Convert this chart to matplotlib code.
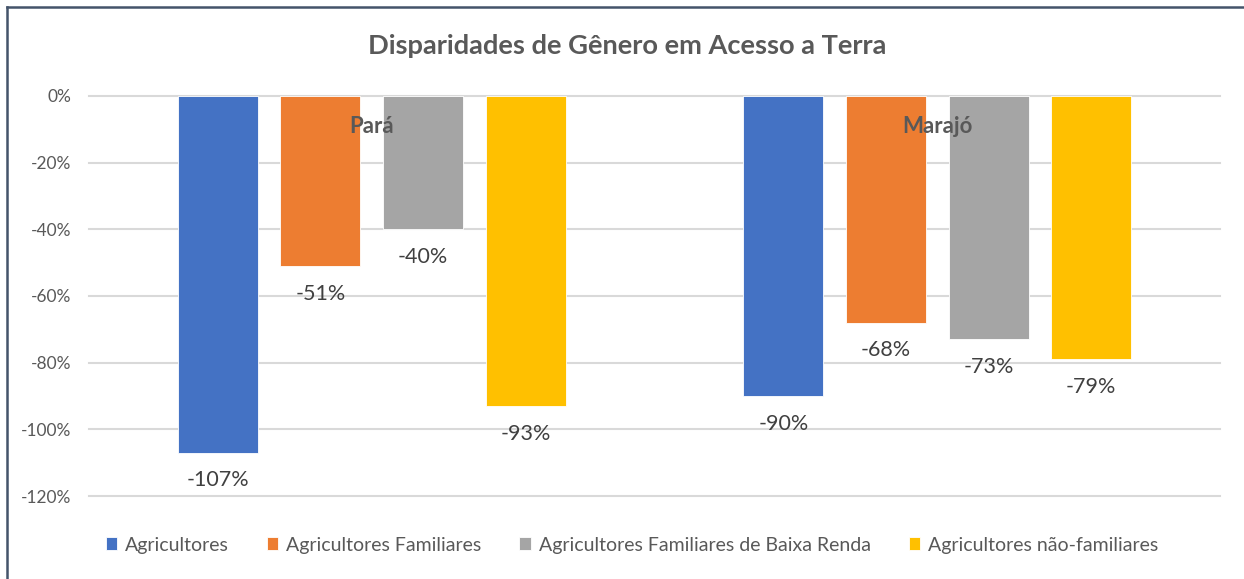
import numpy as np
import matplotlib
matplotlib.use('Agg')
import matplotlib.pyplot as plt
from matplotlib.lines import Line2D

plt.rcParams['font.family'] = ['Lato', 'DejaVu Sans']

# dados
regioes = ['Pará', 'Marajó']
series = ['Agricultores', 'Agricultores Familiares',
          'Agricultores Familiares de Baixa Renda', 'Agricultores não-familiares']
agricultores = [-1.07, -0.90]
familiares = [-0.51, -0.68]
baixa_renda = [-0.40, -0.73]
nao_familiares = [-0.93, -0.79]
valores = [agricultores, familiares, baixa_renda, nao_familiares]
cores = ['#4472C4', '#ED7D31', '#A5A5A5', '#FFC000']
yticks = [0, -0.2, -0.4, -0.6, -0.8, -1.0, -1.2]

cinza = '#595959'

fig = plt.figure(figsize=(12.44, 5.79), dpi=100)
ax = fig.add_axes([89/1244, 1-496/579, (1220-89)/1244, 400/579])

x = np.arange(len(regioes))
largura = 0.1415
passo = 0.1813
barras = []
for i, (vals, cor) in enumerate(zip(valores, cores)):
    pos = x + (i - 1.5) * passo
    b = ax.bar(pos, vals, largura, color=cor, label=series[i], zorder=3,
               edgecolor='white', linewidth=0.6)
    barras.append(b)
    for xx, v in zip(pos, vals):
        ax.annotate(f'{v*100:.0f}%', (xx, v), xytext=(0, -20),
                    textcoords='offset points', ha='center', va='center',
                    fontsize=15.5, color='#404040', zorder=4)

# nomes das regiões perto do zero
for xx, nome in zip(x, regioes):
    ax.annotate(nome, (xx, 0), xytext=(0, -22), textcoords='offset points',
                ha='center', va='center', fontsize=16, fontweight='bold',
                color=cinza, zorder=5)

ax.set_xlim(-0.5, 1.5)
ax.set_ylim(-1.2, 0)
ax.set_yticks(yticks)
ax.set_yticklabels([f'{t*100:.0f}%' for t in yticks])
ax.set_xticks([])
ax.tick_params(axis='y', length=0, pad=13, labelsize=12.5, labelcolor=cinza)
ax.grid(axis='y', color='#D9D9D9', linewidth=1.5, zorder=0)
for s in ax.spines.values():
    s.set_visible(False)
for gl in ax.get_ygridlines():
    gl.set_clip_on(False)

fig.text(627/1244, 1-46/579, 'Disparidades de Gênero em Acesso a Terra',
         ha='center', va='center', fontsize=19.6, fontweight='bold', color=cinza)

fig.legend(handles=barras, loc='center', bbox_to_anchor=(632/1244, 1-545/579),
           ncol=4, frameon=False, fontsize=14, labelcolor=cinza,
           handlelength=0.6, handleheight=0.6, handletextpad=0.4,
           columnspacing=1.95)

# borda
fig.add_artist(Line2D([7/1244, 1243/1244], [1-7/579, 1-7/579],
                      transform=fig.transFigure, color='#44546A', linewidth=1.8))
fig.add_artist(Line2D([7/1244, 7/1244], [1-7/579, 0],
                      transform=fig.transFigure, color='#44546A', linewidth=1.8))

fig.savefig('out.png', dpi=100)
